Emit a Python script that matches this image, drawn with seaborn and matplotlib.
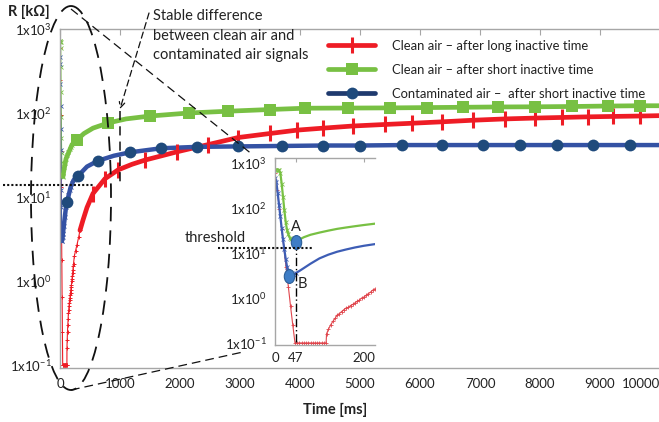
import matplotlib
matplotlib.use('Agg')
import matplotlib.pyplot as plt
import seaborn as sns
from matplotlib.patches import Ellipse
from matplotlib.lines import Line2D
from matplotlib.markers import MarkerStyle
from matplotlib.transforms import Affine2D
from matplotlib.ticker import NullLocator

# ---------------- data ----------------
# thick (smoothed) main curves
red_t = [333, 383, 450, 550, 750, 967, 1200, 1417, 1700, 1950, 2200, 2467, 2967, 3500, 3950,
         4383, 4883, 5417, 5867, 6367, 6883, 7417, 7917, 8367, 8800, 9217, 9667, 10000]
red_v = [4.0, 5.3, 7.5, 11, 16.5, 21, 24.5, 27.5, 31, 34.5, 38, 42, 51, 57, 62.5,
         66, 70, 73, 75.5, 78.5, 82, 85, 87, 88.5, 90, 91, 92, 93]
red_mark_t = [550, 750, 967, 1417, 1950, 2467, 2967, 3500, 3950, 4383, 4883, 5417, 5867,
              6367, 6883, 7417, 7917, 8367, 8800, 9217, 9667]
red_mark_v = [11, 16.5, 21, 27.5, 34.5, 42, 51, 57, 62.5, 66, 70, 73, 75.5,
              78.5, 82, 85, 87, 88.5, 90, 91, 92]

green_t = [47, 100, 200, 283, 400, 550, 800, 1100, 1500, 2150, 2800, 3500, 4083, 4800,
           5500, 6117, 6717, 7300, 7917, 8533, 9133, 9667, 10000]
green_v = [17.5, 28.5, 42, 48, 57, 66, 76, 85, 92, 100, 105, 110, 114, 114.5,
           115, 116, 117, 118, 118.5, 119.5, 121, 122, 122]
green_mark_t = [283, 800, 1500, 2150, 2800, 3500, 4083, 4800, 5500, 6117, 6717, 7300,
                7917, 8533, 9133, 9667]
green_mark_v = [48, 76, 92, 100, 105, 110, 114, 114.5, 115, 116, 117, 118,
                118.5, 119.5, 121, 122]

blue_t = [33, 47, 63, 100, 117, 176, 225, 300, 450, 633, 900, 1167, 1683, 2283, 2967,
          3700, 4383, 5000, 5700, 6367, 7050, 7667, 8283, 8883, 9500, 10000]
blue_v = [3.0, 3.6, 4.5, 7.6, 8.7, 13, 15.8, 17.8, 23, 27, 31, 34, 38, 39.5, 40,
          40.5, 41, 41, 41.5, 41.5, 41.5, 41.5, 41.5, 41.5, 41.5, 41.5]
blue_mark_t = [117, 300, 633, 1167, 1683, 2283, 2967, 3700, 4383, 5000, 5700, 6367,
               7050, 7667, 8283, 8883, 9500]
blue_mark_v = [8.7, 17.8, 27, 34, 38, 39.5, 40, 40.5, 41, 41, 41.5, 41.5,
               41.5, 41.5, 41.5, 41.5, 41.5]

# raw (first few hundred ms) curves
red_raw_t = [0, 5, 10, 15, 20, 25, 30, 35, 40, 45, 50, 55, 60, 65, 70, 75, 80, 85, 90, 95,
             100, 105, 110, 115, 116, 120, 125, 130, 135, 140, 145, 150, 155, 160, 165, 170,
             175, 180, 185, 190, 195, 200, 205, 210, 215, 220, 225, 240, 260, 283, 310, 333]
red_raw_v = [600, 250, 95, 35, 13, 4.8, 1.8, 0.65, 0.25, 0.1, 0.1, 0.1, 0.1, 0.1, 0.1, 0.1,
             0.1, 0.1, 0.1, 0.1, 0.1, 0.1, 0.1, 0.1, 0.16, 0.2, 0.25, 0.3, 0.35, 0.42, 0.45,
             0.5, 0.55, 0.6, 0.62, 0.68, 0.72, 0.78, 0.85, 0.9, 1.0, 1.05, 1.15, 1.25, 1.35,
             1.5, 1.6, 2.0, 2.3, 2.7, 3.3, 4.0]
green_raw_t = [0, 3, 6, 9, 12, 15, 18, 21, 24, 27, 30, 33, 36, 40, 44, 47, 55, 65, 80,
               100, 120, 140, 160, 180, 200, 225, 250]
green_raw_v = [700, 720, 720, 700, 600, 350, 180, 90, 50, 33, 26, 22, 20, 18.5, 17.8, 17.5,
               20, 22.5, 25.5, 28.5, 31.5, 34.5, 37, 39.5, 42, 45, 47]
blue_raw_t = [0, 3, 6, 9, 12, 15, 18, 21, 24, 27, 30, 33, 37, 42, 47, 55, 63, 80, 100,
              120, 140, 160, 180, 200, 225]
blue_raw_v = [470, 380, 220, 120, 65, 36, 20, 12, 7.5, 5, 3.6, 3.0, 3.0, 3.3, 3.6, 4.0,
              4.5, 5.8, 7.6, 9.2, 10.7, 12, 13.3, 14.5, 15.8]

# inset points A and B
ab_t = [47, 31]
ab_v = [18, 3.1]
ab_labels = ['A', 'B']

y_ticks = [0.1, 1, 10, 100, 1000]
y_ticklabels = [r'1x10$^{-1}$', r'1x10$^{0}$', r'1x10$^{1}$', r'1x10$^{2}$', r'1x10$^{3}$']
x_ticks = list(range(0, 10001, 1000))
x_ticklabels = [str(v) for v in x_ticks]
inset_x_ticks = [0, 47, 200]

legend_labels = ['Clean air \u2013 after long inactive time',
                 'Clean air \u2013 after short inactive time',
                 'Contaminated air \u2013  after short inactive time']

# ---------------- style ----------------
sns.set_style('white')
plt.rcParams['font.family'] = ['Lato', 'DejaVu Sans']
plt.rcParams['mathtext.fontset'] = 'custom'
plt.rcParams['mathtext.rm'] = 'Lato'
plt.rcParams['mathtext.default'] = 'regular'

RED = '#EE1C25'
GREEN = '#78C043'
BLUE = '#3452A4'
NAVY = '#1F4A7C'
SPINE = '#A6A6A6'
TXT = '#222222'

W, H = 659, 422
fig = plt.figure(figsize=(W / 100, H / 100), dpi=100)


def box(l, t, r, b):
    return [l / W, 1 - b / H, (r - l) / W, (b - t) / H]


# ---------------- main axes ----------------
ax = fig.add_axes(box(60, 29, 660, 368))
ax.set_yscale('log')

sns.lineplot(x=red_raw_t, y=red_raw_v, ax=ax, color=RED, lw=0.8, marker='+',
             markersize=3.5, markeredgewidth=0.7, markeredgecolor=RED)
sns.lineplot(x=green_raw_t, y=green_raw_v, ax=ax, color=GREEN, lw=0.8, marker='x',
             markersize=2.5, markeredgewidth=0.6, markeredgecolor=GREEN)
sns.lineplot(x=blue_raw_t, y=blue_raw_v, ax=ax, color=BLUE, lw=0.8, marker='x',
             markersize=2.5, markeredgewidth=0.6, markeredgecolor=BLUE)

sns.lineplot(x=red_t, y=red_v, ax=ax, color=RED, lw=3.4)
sns.lineplot(x=green_t, y=green_v, ax=ax, color=GREEN, lw=3.4)
sns.lineplot(x=blue_t, y=blue_v, ax=ax, color=BLUE, lw=3.2)

sns.lineplot(x=red_mark_t, y=red_mark_v, ax=ax, color=RED, linestyle='none', marker='|',
             markersize=11, markeredgewidth=2.2, markeredgecolor=RED)
sns.lineplot(x=green_mark_t, y=green_mark_v, ax=ax, color=GREEN, linestyle='none', marker='s',
             markersize=8.5, markeredgewidth=0, markeredgecolor=GREEN, markerfacecolor=GREEN)
sns.lineplot(x=blue_mark_t, y=blue_mark_v, ax=ax, color=NAVY, linestyle='none', marker='o',
             markersize=8.5, markeredgewidth=0, markeredgecolor=NAVY, markerfacecolor=NAVY)

ax.set_xlim(0, 10000)
ax.set_ylim(0.092, 1000)
ax.set_xticks(x_ticks)
ax.set_xticklabels(x_ticklabels)
ax.get_xticklabels()[-1].set_ha('right')
ax.set_yticks(y_ticks)
ax.set_yticklabels(y_ticklabels)
ax.yaxis.set_minor_locator(NullLocator())
ax.tick_params(axis='x', direction='in', length=4, color=SPINE, top=True,
               labelsize=9.5, pad=7, labelcolor=TXT)
ax.tick_params(axis='y', direction='in', length=0, pad=6, labelsize=9.5, labelcolor=TXT)
for s in ['left', 'bottom', 'top']:
    ax.spines[s].set_color(SPINE)
    ax.spines[s].set_linewidth(1)
ax.spines['right'].set_visible(False)

ax.set_xlabel('Time [ms]', fontsize=10.5, fontweight='bold', color=TXT)
ax.xaxis.label.set_va('center')
ax.xaxis.set_label_coords((335 - 60) / 600, (368 - 410) / 339)
ax.set_ylabel('R [k\u03a9]', fontsize=10.5, fontweight='bold', color=TXT, rotation=0)
ax.yaxis.label.set_ha('left')
ax.yaxis.label.set_va('center')
ax.yaxis.set_label_coords((8 - 60) / 600, (368 - 12) / 339)

handles = [
    Line2D([], [], color=RED, lw=3.4, marker='|', markersize=11, markeredgewidth=2.2),
    Line2D([], [], color=GREEN, lw=3.4, marker='s', markersize=8.5, markeredgewidth=0),
    Line2D([], [], color='#1F3A6E', lw=3.4, marker='o', markersize=8.5, markeredgewidth=0,
           markerfacecolor=NAVY),
]
ax.legend(handles, legend_labels, loc='upper left', bbox_to_anchor=(328 / W, 1 - 40 / H),
          bbox_transform=fig.transFigure, frameon=False, fontsize=9.4, borderpad=0,
          borderaxespad=0, handlelength=3.6, handletextpad=1.3, labelspacing=0.9,
          labelcolor=TXT)

# ---------------- inset ----------------
ax_in = fig.add_axes(box(275, 158, 375, 345))
ax_in.set_zorder(5)
ax_in.set_facecolor('white')
ax_in.set_yscale('log')
sns.lineplot(x=red_raw_t, y=red_raw_v, ax=ax_in, color='#E0454C', lw=0.8, marker='+',
             markersize=3.5, markeredgewidth=0.6, markeredgecolor='#E0454C')
sns.lineplot(x=green_raw_t, y=green_raw_v, ax=ax_in, color=GREEN, lw=1.6, marker='x',
             markersize=2.5, markeredgewidth=0.6, markeredgecolor=GREEN,
             markevery=list(range(16)))
sns.lineplot(x=blue_raw_t, y=blue_raw_v, ax=ax_in, color='#3D5DB5', lw=1.6, marker='x',
             markersize=2.5, markeredgewidth=0.6, markeredgecolor='#3D5DB5',
             markevery=list(range(15)))
ax_in.plot([ab_t[0], ab_t[0]], [ab_v[0], 0.09], color='black', lw=1,
           linestyle=(0, (6, 2, 1, 2)))
ell = MarkerStyle('o', transform=Affine2D().scale(0.75, 1.0))
sns.lineplot(x=ab_t, y=ab_v, ax=ax_in, linestyle='none', marker=ell, markersize=10,
             markerfacecolor='#3E7DC6', markeredgecolor='#2C5E97', markeredgewidth=0.8,
             color='#3E7DC6')
ax_in.set_xlim(0, 225)
ax_in.set_ylim(0.09, 1300)
ax_in.set_xticks(inset_x_ticks)
ax_in.set_xticklabels([str(v) for v in inset_x_ticks])
ax_in.set_yticks(y_ticks)
ax_in.set_yticklabels(y_ticklabels)
ax_in.yaxis.set_minor_locator(NullLocator())
ax_in.tick_params(axis='x', direction='in', length=3, color=SPINE, top=True,
                  labelsize=9.5, pad=5, labelcolor=TXT)
ax_in.tick_params(axis='y', direction='in', length=0, pad=6, labelsize=9.5, labelcolor=TXT)
for s in ['left', 'bottom', 'top']:
    ax_in.spines[s].set_color(SPINE)
    ax_in.spines[s].set_linewidth(1)
ax_in.spines['right'].set_visible(False)
ax_in.set_xlabel('')
ax_in.set_ylabel('')

# ---------------- overlay annotations (pixel coords) ----------------
ov = fig.add_axes([0, 0, 1, 1])
ov.set_zorder(10)
ov.set_xlim(0, W)
ov.set_ylim(H, 0)
ov.axis('off')
ov.patch.set_alpha(0)

ov.add_patch(Ellipse((71, 198), 80, 384, fill=False, lw=1.3, ec='#111111',
                     linestyle=(0, (8, 5))))
ov.plot([71, 253], [9, 155], color='#111111', lw=0.9, linestyle=(0, (7, 4)))
ov.plot([71, 243], [390, 352], color='#111111', lw=0.9, linestyle=(0, (7, 4)))

for i, line in enumerate(['Stable difference', 'between clean air and',
                          'contaminated air signals']):
    ov.text(153, 16 + 19.5 * i, line, ha='left', va='center', fontsize=10.5, color=TXT)
ov.annotate('', xy=(120, 109), xytext=(149, 13),
            arrowprops=dict(arrowstyle='->', color='#111111', lw=0.9,
                            linestyle=(0, (5, 3)), shrinkA=0, shrinkB=0))
ov.plot([120, 120], [111, 186], color='#111111', lw=1.1, linestyle=(0, (6, 4)))

ov.plot([3, 93], [185, 185], color='#111111', lw=1.5, linestyle=(0, (1, 1)))
ov.plot([218, 312], [248, 248], color='#111111', lw=1.5, linestyle=(0, (1, 1)))
ov.text(215, 238, 'threshold', ha='center', va='center', fontsize=10.5, color=TXT)
ov.text(296, 227, ab_labels[0], ha='center', va='center', fontsize=10.5, color=TXT)
ov.text(302, 284, ab_labels[1], ha='center', va='center', fontsize=10.5, color=TXT)

fig.savefig('out.png', dpi=100)
